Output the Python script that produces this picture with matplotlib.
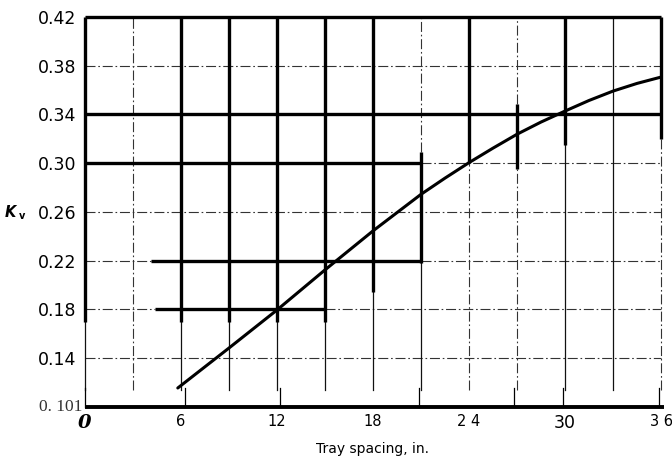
import matplotlib
matplotlib.use("Agg")
import matplotlib.pyplot as plt

# ---- data ----
spacing = [5.8, 9, 12, 15, 18, 21, 22.5, 24, 25.5, 27, 28.5, 30, 31.5, 33, 34.5, 36]
kv = [0.1156, 0.1484, 0.1796, 0.2125, 0.2445, 0.2745, 0.2878, 0.3005, 0.3124, 0.3238,
      0.3338, 0.3428, 0.3515, 0.3592, 0.3655, 0.3707]

x_ticks = [0, 6, 12, 18, 24, 30, 36]
x_labels = ["0", "6", "12", "18", "2 4", "30", "3 6"]
y_ticks = [0.14, 0.18, 0.22, 0.26, 0.30, 0.34, 0.38, 0.42]
y_labels = ["0.14", "0.18", "0.22", "0.26", "0.30", "0.34", "0.38", "0.42"]

# thick chart lines (horizontal: y, x0, x1 ; vertical: x, y0, y1)
thick_h = [(0.42, 0, 36), (0.34, 0, 36), (0.30, 0, 21), (0.22, 4.1, 21), (0.18, 4.4, 15)]
thick_v = [(0, 0.17, 0.42), (6, 0.17, 0.42), (9, 0.17, 0.42), (12, 0.17, 0.42),
           (15, 0.17, 0.42), (18, 0.194, 0.42), (21, 0.218, 0.309), (24, 0.30, 0.42),
           (27, 0.295, 0.349), (30, 0.315, 0.42), (36, 0.32, 0.42)]
# thin solid verticals
thin_v = [(0, 0.114, 0.17), (6, 0.114, 0.17), (9, 0.114, 0.17), (12, 0.114, 0.17),
          (15, 0.114, 0.17), (18, 0.114, 0.194), (21, 0.114, 0.218),
          (30, 0.114, 0.315), (33, 0.114, 0.42)]
# dash-dot grid lines
dd_v = [(3, 0.114, 0.42), (21, 0.309, 0.42), (24, 0.114, 0.30), (27, 0.114, 0.295),
        (27, 0.349, 0.42), (36, 0.114, 0.32)]
dd_h = [(0.38, 0, 36), (0.26, 0, 36), (0.14, 0, 36), (0.30, 21, 36),
        (0.22, 0, 4.1), (0.22, 21, 36), (0.18, 0, 4.4), (0.18, 15, 36)]
bottom_marks = [0, 6.25, 12.2, 20.9, 26.8, 29.9, 35.9]

fig = plt.figure(figsize=(6.72, 4.61), dpi=100)
ax = fig.add_axes([85/672, (461-407)/461, 576/672, 390/461])
ax.set_xlim(0, 36)
ax.set_ylim(0.10, 0.42)
for s in ax.spines.values():
    s.set_visible(False)

dd = (0, (9, 2.5, 1.5, 2.5))
for (x, y0, y1) in dd_v:
    ax.plot([x, x], [y0, y1], color="#333333", lw=0.8, linestyle=dd, clip_on=False)
for (y, x0, x1) in dd_h:
    ax.plot([x0, x1], [y, y], color="#333333", lw=0.8, linestyle=dd, clip_on=False)
for (x, y0, y1) in thin_v:
    ax.plot([x, x], [y0, y1], color="#111111", lw=0.9, clip_on=False)
for (x, y0, y1) in thick_v:
    ax.plot([x, x], [y0, y1], color="black", lw=2.4, solid_capstyle="butt", clip_on=False)
for (y, x0, x1) in thick_h:
    ax.plot([x0, x1], [y, y], color="black", lw=2.4, solid_capstyle="butt", clip_on=False)

# bottom axis line and marks
ax.plot([0, 36.2], [0.10, 0.10], color="black", lw=2.8, solid_capstyle="butt", clip_on=False)
for x in bottom_marks:
    ax.plot([x, x], [0.10, 0.1155], color="black", lw=0.9, clip_on=False)

# curve
ax.plot(spacing, kv, color="black", lw=2.2, solid_capstyle="round",
        solid_joinstyle="round", clip_on=False)

# ticks
ax.set_yticks(y_ticks, y_labels)
ax.set_xticks(x_ticks, x_labels)
ax.tick_params(axis="y", length=0, pad=6, labelsize=12.5, labelcolor="black")
ax.tick_params(axis="x", length=0, pad=5, labelsize=10.5, labelcolor="black")
for t in ax.get_xticklabels():
    if t.get_text() == "0":
        t.set_fontfamily("DejaVu Serif")
        t.set_fontstyle("italic")
        t.set_fontweight("bold")
        t.set_fontsize(14)
    if t.get_text() == "30":
        t.set_fontsize(12.5)

ax.text(-0.15, 0.10, "0. 101", ha="right", va="center", fontsize=12.5,
        family="Liberation Serif", color="#333333", transform=ax.transData)

ax.set_xlabel("Tray spacing, in.", fontsize=10, labelpad=7)

fig.text(5/672, 1 - 212/461, "K", fontsize=10.5, fontweight="bold", fontstyle="italic",
         ha="left", va="center")
fig.text(18.5/672, 1 - 216/461, "v", fontsize=7, fontweight="bold",
         ha="left", va="center")

fig.savefig("out.png", dpi=100)
